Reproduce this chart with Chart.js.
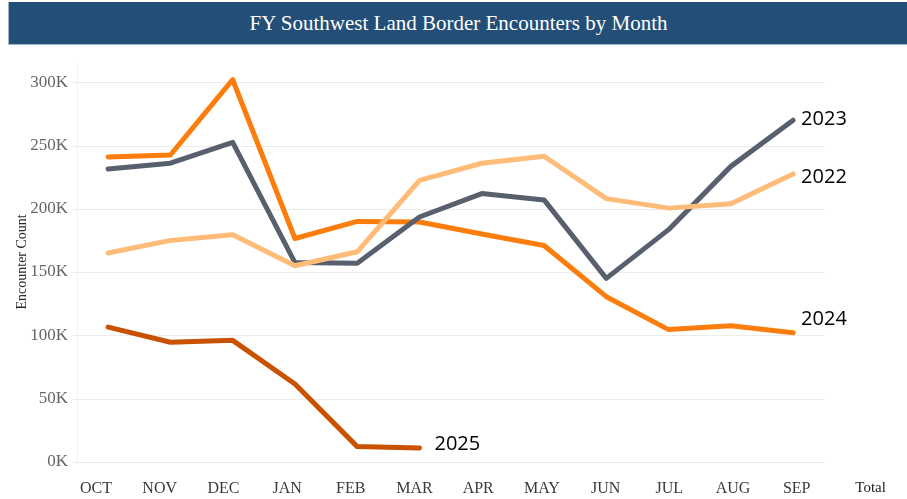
<!DOCTYPE html>
<html>
<head>
<meta charset="utf-8">
<script src="https://cdn.jsdelivr.net/npm/chart.js@4/dist/chart.umd.min.js"></script>
<style>
  html, body { margin: 0; padding: 0; background: #fff; }
  #wrap { position: relative; width: 907px; height: 499px; overflow: hidden; }
  #banner {
    position: absolute; left: 8px; top: 2px; width: 899px; height: 42px;
    background: #234e78; border-bottom: 1px solid #9fb4cb; border-left: 1px solid #9fb4cb;
    color: #fff; font-family: "Liberation Serif", "DejaVu Serif", serif; font-size: 21px;
    line-height: 42px; text-align: center; box-sizing: content-box;
  }
  canvas { position: absolute; left: 0; top: 0; }
</style>
</head>
<body>
<div id="wrap">
  <canvas id="c" width="907" height="499"></canvas>
  <div id="banner">FY Southwest Land Border Encounters by Month</div>
</div>
<script>
// ---- data ----
const months = ["OCT","NOV","DEC","JAN","FEB","MAR","APR","MAY","JUN","JUL","AUG","SEP"];
const xLabels = ["OCT","NOV","DEC","JAN","FEB","MAR","APR","MAY","JUN","JUL","AUG","SEP","Total"];
const yTicks = [0, 50000, 100000, 150000, 200000, 250000, 300000];
const seriesNames = ["2025", "2022", "2023", "2024"];
const fy2022 = [165000, 175000, 179500, 155000, 166000, 222500, 236000, 241500, 208000, 200500, 204000, 227500];
const fy2023 = [231500, 236000, 252500, 157500, 157000, 193500, 212000, 207000, 145000, 183500, 233500, 270000];
const fy2024 = [241000, 242500, 302000, 176500, 190000, 189500, 180000, 171000, 130500, 104500, 107500, 102000];
const fy2025 = [106500, 94500, 96000, 61500, 12000, 11000];

const colors = { "2025": "#c85200", "2022": "#ffbc79", "2023": "#57606c", "2024": "#fc7d0b" };
const seriesValues = { "2025": fy2025, "2022": fy2022, "2023": fy2023, "2024": fy2024 };
// label offsets (px) from each series' last point
const labelOffsets = { "2025": [15, -4], "2022": [8, 3], "2023": [8, -1], "2024": [8, -13] };

const toPoints = arr => arr.map((v, i) => ({ x: i, y: v }));

const datasets = seriesNames.map(name => ({
  label: name,
  data: toPoints(seriesValues[name]),
  borderColor: colors[name],
  backgroundColor: colors[name],
  borderWidth: 5,
  pointRadius: 0,
  pointHoverRadius: 0,
  tension: 0,
  borderCapStyle: 'round',
  borderJoinStyle: 'round',
  xAxisID: 'x',
  yAxisID: 'y'
}));

const labelTickPositions = [0,1,2,3,4,5,6,7,8,9,10,11,12.16];

const gridPlugin = {
  id: 'grid',
  beforeDatasetsDraw(chart) {
    const { ctx, chartArea, scales } = chart;
    const right = scales.x.getPixelForValue(11.5);
    ctx.save();
    ctx.strokeStyle = '#ececec';
    ctx.lineWidth = 1;
    yTicks.forEach(v => {
      const y = Math.round(scales.y.getPixelForValue(v)) + 0.5;
      ctx.beginPath();
      ctx.moveTo(chartArea.left - 5, y);
      ctx.lineTo(right, y);
      ctx.stroke();
    });
    ctx.strokeStyle = '#f2f2f2';
    ctx.beginPath();
    ctx.moveTo(Math.round(chartArea.left) + 0.5, chartArea.top);
    ctx.lineTo(Math.round(chartArea.left) + 0.5, scales.y.getPixelForValue(0));
    ctx.stroke();
    ctx.restore();
  }
};

const seriesLabelPlugin = {
  id: 'seriesLabels',
  afterDatasetsDraw(chart) {
    const { ctx } = chart;
    ctx.save();
    ctx.font = '20px "Open Sans", "Liberation Sans", sans-serif';
    ctx.fillStyle = '#000';
    ctx.textAlign = 'left';
    ctx.textBaseline = 'middle';
    chart.data.datasets.forEach((ds, i) => {
      const meta = chart.getDatasetMeta(i);
      const last = meta.data[meta.data.length - 1];
      const off = labelOffsets[ds.label];
      ctx.fillText(ds.label, last.x + off[0], last.y + off[1]);
    });
    ctx.restore();
  }
};

new Chart(document.getElementById('c'), {
  type: 'line',
  data: { datasets },
  options: {
    responsive: false,
    animation: false,
    events: [],
    layout: { padding: { left: 0, right: 12, top: 62, bottom: 0 } },
    plugins: { legend: { display: false }, tooltip: { enabled: false }, title: { display: false } },
    scales: {
      x: {
        type: 'linear',
        display: false,
        min: -0.5,
        max: 12.636
      },
      x2: {
        type: 'linear',
        position: 'bottom',
        min: -0.298,
        max: 12.543,
        grid: { display: false, drawTicks: true, tickLength: 16 },
        border: { display: false },
        afterBuildTicks: axis => { axis.ticks = labelTickPositions.map(v => ({ value: v })); },
        ticks: {
          autoSkip: false,
          maxRotation: 0,
          padding: 1,
          color: ctx => ctx.index === 12 ? '#222' : '#3a3a3a',
          font: ctx => ({ family: '"Liberation Serif", "DejaVu Serif", serif', size: ctx.index === 12 ? 15 : 16 }),
          callback: (v, i) => xLabels[i]
        }
      },
      y: {
        type: 'linear',
        position: 'left',
        min: 0,
        max: 316000,
        afterBuildTicks: axis => { axis.ticks = yTicks.map(v => ({ value: v })); },
        afterFit: axis => { axis.width = 77; },
        grid: { display: false, drawTicks: false },
        border: { display: false },
        ticks: {
          padding: 9,
          color: '#666',
          font: { family: '"Liberation Serif", "DejaVu Serif", serif', size: 17 },
          callback: v => (v / 1000) + 'K'
        },
        title: {
          display: true,
          text: 'Encounter Count',
          color: '#2a2a2a',
          font: { family: '"Liberation Serif", "DejaVu Serif", serif', size: 14 },
          padding: { top: 14, bottom: 0 }
        }
      }
    }
  },
  plugins: [gridPlugin, seriesLabelPlugin]
});
</script>
</body>
</html>
